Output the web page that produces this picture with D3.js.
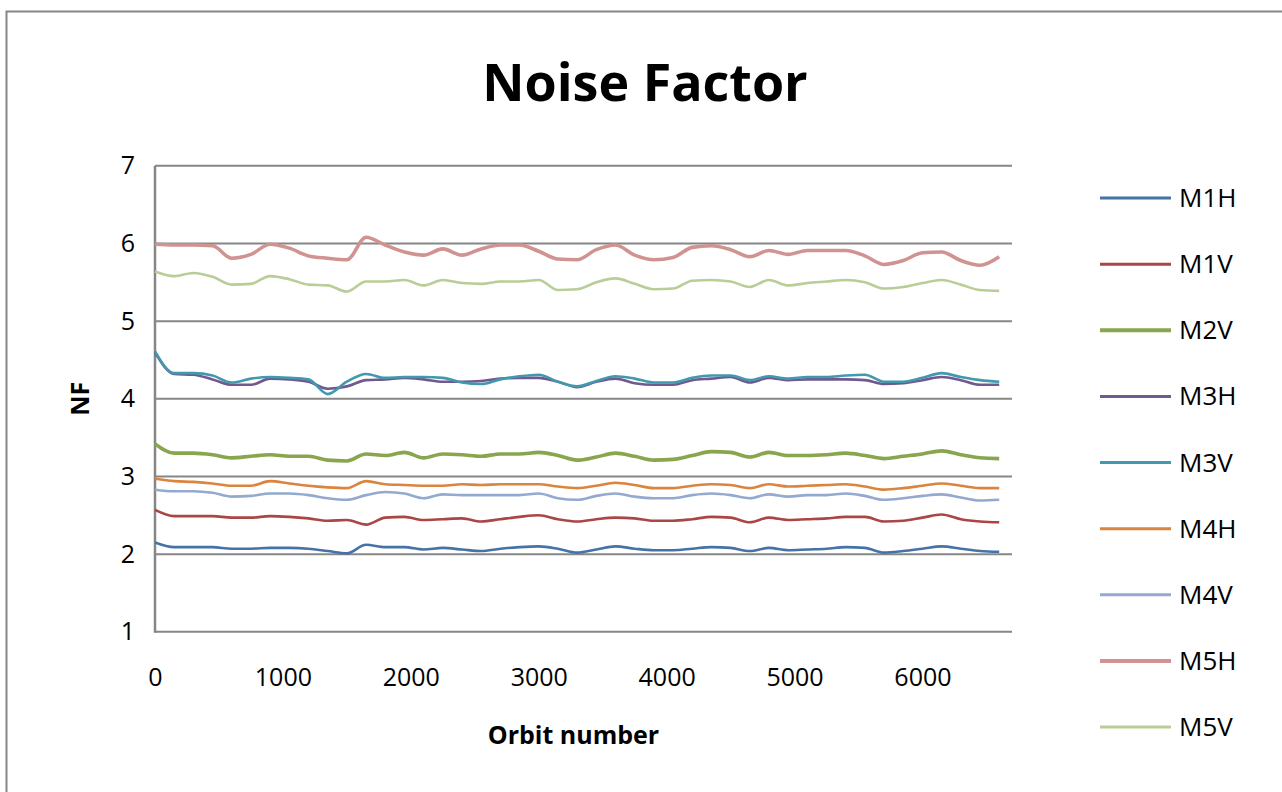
<!DOCTYPE html>
<html>
<head>
<meta charset="utf-8">
<title>Noise Factor</title>
<script src="https://cdn.jsdelivr.net/npm/d3@7"></script>
<style>
  html, body { margin: 0; padding: 0; background: #fff; }
  svg { display: block; }
  text { font-family: 'Open Sans', 'Liberation Sans', sans-serif; fill: #000; }
</style>
</head>
<body>
<div id="chart"></div>
<script>
// Orbit numbers (x) shared by all series
const orbits = [0,150,300,450,600,750,900,1050,1200,1350,1500,1650,1800,1950,2100,
  2250,2400,2550,2700,2850,3000,3150,3300,3450,3600,3750,3900,4050,4200,4350,
  4500,4650,4800,4950,5100,5250,5400,5550,5700,5850,6000,6150,6300,6450,6600];

const M1H = [2.15,2.09,2.09,2.09,2.07,2.07,2.08,2.08,2.07,2.04,2.01,2.12,2.09,2.09,2.06,
  2.08,2.06,2.04,2.07,2.09,2.10,2.07,2.02,2.06,2.10,2.07,2.05,2.05,2.07,2.09,
  2.08,2.04,2.08,2.05,2.06,2.07,2.09,2.08,2.02,2.04,2.07,2.10,2.07,2.04,2.03];
const M1V = [2.57,2.49,2.49,2.49,2.47,2.47,2.49,2.48,2.46,2.43,2.44,2.38,2.47,2.48,2.44,
  2.45,2.46,2.42,2.45,2.48,2.50,2.45,2.42,2.45,2.47,2.46,2.43,2.43,2.45,2.48,
  2.47,2.41,2.47,2.44,2.45,2.46,2.48,2.48,2.42,2.43,2.47,2.51,2.45,2.42,2.41];
const M2V = [3.42,3.30,3.30,3.28,3.24,3.26,3.28,3.26,3.26,3.21,3.20,3.29,3.27,3.31,3.24,
  3.29,3.28,3.26,3.29,3.29,3.31,3.27,3.21,3.25,3.30,3.26,3.21,3.22,3.27,3.32,
  3.31,3.25,3.31,3.27,3.27,3.28,3.30,3.27,3.23,3.26,3.29,3.33,3.28,3.24,3.23];
const M3H = [4.60,4.32,4.31,4.25,4.18,4.18,4.26,4.25,4.22,4.13,4.16,4.24,4.25,4.27,4.25,
  4.22,4.22,4.23,4.26,4.27,4.27,4.22,4.15,4.22,4.26,4.20,4.18,4.18,4.24,4.26,
  4.28,4.21,4.27,4.24,4.25,4.25,4.25,4.24,4.19,4.20,4.24,4.28,4.24,4.18,4.18];
const M3V = [4.61,4.33,4.33,4.30,4.21,4.26,4.28,4.27,4.25,4.06,4.22,4.32,4.27,4.28,4.28,
  4.27,4.21,4.19,4.25,4.29,4.31,4.22,4.16,4.23,4.29,4.26,4.21,4.21,4.27,4.30,
  4.30,4.24,4.29,4.26,4.28,4.28,4.30,4.31,4.22,4.22,4.27,4.33,4.28,4.24,4.22];
const M4H = [2.97,2.94,2.93,2.91,2.88,2.88,2.94,2.91,2.88,2.86,2.85,2.94,2.90,2.89,2.88,
  2.88,2.90,2.89,2.90,2.90,2.90,2.87,2.85,2.88,2.92,2.89,2.85,2.85,2.88,2.90,
  2.89,2.85,2.90,2.87,2.88,2.89,2.90,2.87,2.83,2.85,2.88,2.91,2.88,2.85,2.85];
const M4V = [2.83,2.81,2.81,2.79,2.74,2.75,2.78,2.78,2.76,2.72,2.70,2.76,2.80,2.78,2.72,
  2.77,2.76,2.76,2.76,2.76,2.78,2.72,2.70,2.75,2.78,2.74,2.72,2.72,2.76,2.78,
  2.76,2.72,2.77,2.74,2.76,2.76,2.78,2.75,2.70,2.72,2.75,2.77,2.73,2.69,2.70];
const M5H = [5.99,5.98,5.98,5.97,5.81,5.86,5.99,5.94,5.84,5.81,5.79,6.08,5.98,5.89,5.85,
  5.93,5.85,5.93,5.98,5.98,5.90,5.80,5.79,5.92,5.98,5.85,5.79,5.82,5.95,5.97,
  5.92,5.83,5.91,5.86,5.91,5.91,5.91,5.84,5.73,5.78,5.88,5.89,5.78,5.72,5.83];
const M5V = [5.64,5.58,5.62,5.57,5.47,5.48,5.58,5.54,5.47,5.46,5.38,5.51,5.51,5.53,5.46,
  5.53,5.49,5.48,5.51,5.51,5.53,5.40,5.41,5.50,5.55,5.48,5.41,5.42,5.52,5.53,
  5.51,5.44,5.53,5.46,5.49,5.51,5.53,5.50,5.42,5.44,5.49,5.53,5.47,5.40,5.39];

const seriesNames = ['M1H','M1V','M2V','M3H','M3V','M4H','M4V','M5H','M5V'];
const seriesValues = [M1H, M1V, M2V, M3H, M3V, M4H, M4V, M5H, M5V];
const seriesColors = ['#4572A7','#AA4643','#89A54E','#71588F','#4198AF','#DB843D','#93A9CF','#D19392','#B9CD96'];
const seriesWidths = [2.6, 2.6, 3.6, 2.6, 2.6, 2.6, 2.6, 3.6, 2.6];

const xTicks = [0,1000,2000,3000,4000,5000,6000];
const yTicks = [1,2,3,4,5,6,7];

const W = 1282, H = 792;
const svg = d3.select('#chart').append('svg').attr('width', W).attr('height', H);

// outer chart frame (only left/top visible)
svg.append('rect').attr('x', 6.5).attr('y', 11.5).attr('width', 1400).attr('height', 900)
  .attr('fill', 'none').attr('stroke', '#868686').attr('stroke-width', 2);

const plot = { left: 155, right: 1012, top: 165.8, bottom: 631.8 };
const x = d3.scaleLinear().domain([0, 6700]).range([plot.left, plot.right]);
const y = d3.scaleLinear().domain([1, 7]).range([plot.bottom, plot.top]);

// gridlines
svg.append('g').selectAll('line').data(yTicks).enter().append('line')
  .attr('x1', plot.left).attr('x2', plot.right)
  .attr('y1', d => y(d)).attr('y2', d => y(d))
  .attr('stroke', '#868686').attr('stroke-width', 2);

// y axis line
svg.append('line').attr('x1', plot.left).attr('x2', plot.left)
  .attr('y1', plot.top).attr('y2', plot.bottom + 1)
  .attr('stroke', '#868686').attr('stroke-width', 2.5);

// tick labels
const yAxis = svg.append('g').attr('transform', `translate(${plot.left},0)`)
  .call(d3.axisLeft(y).tickValues(yTicks).tickSize(0).tickPadding(20).tickFormat(d3.format('d')));
const xAxis = svg.append('g').attr('transform', `translate(0,${plot.bottom})`)
  .call(d3.axisBottom(x).tickValues(xTicks).tickSize(0).tickPadding(36).tickFormat(d3.format('d')));
svg.selectAll('.domain').remove();
svg.selectAll('.tick text').style('font-family', "'Open Sans', sans-serif")
  .style('font-size', '25px').style('fill', '#000');

// series lines
const line = d3.line().x((d, i) => x(orbits[i])).y(d => y(d)).curve(d3.curveMonotoneX);
const order = [0, 1, 5, 6, 2, 3, 4, 8, 7];
svg.append('g').selectAll('path').data(order).enter().append('path')
  .attr('d', k => line(seriesValues[k]))
  .attr('fill', 'none')
  .attr('stroke', k => seriesColors[k])
  .attr('stroke-width', k => seriesWidths[k])
  .attr('stroke-linejoin', 'round');

// title and axis titles
svg.append('text').attr('x', 645).attr('y', 101).attr('text-anchor', 'middle')
  .style('font-size', '52px').style('font-weight', 'bold').text('Noise Factor');
svg.append('text').attr('x', plot.left + (plot.right - plot.left) / 2 - 10).attr('y', 744)
  .attr('text-anchor', 'middle').style('font-size', '25px').style('font-weight', 'bold').text('Orbit number');
svg.append('text').attr('transform', `translate(89,${y(4)}) rotate(-90)`)
  .attr('text-anchor', 'middle').style('font-size', '25px').style('font-weight', 'bold').text('NF');

// legend
const leg = svg.append('g');
const legY = d3.scaleLinear().domain([0, seriesNames.length - 1]).range([198, 727]);
seriesNames.forEach((name, i) => {
  leg.append('line').attr('x1', 1100).attr('x2', 1171).attr('y1', legY(i)).attr('y2', legY(i))
    .attr('stroke', seriesColors[i]).attr('stroke-width', seriesWidths[i] + 0.4);
  leg.append('text').attr('x', 1179).attr('y', legY(i) + 9)
    .style('font-size', '26px').text(name);
});
</script>
</body>
</html>
